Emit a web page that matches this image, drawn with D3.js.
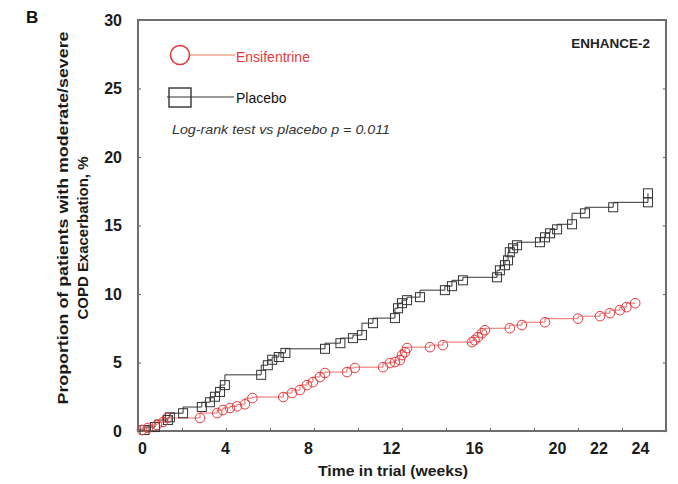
<!DOCTYPE html>
<html><head><meta charset="utf-8">
<script src="https://cdn.jsdelivr.net/npm/d3@7"></script>
<style>body{margin:0;background:#fff}svg{display:block}text{font-family:"Liberation Sans",Arial,sans-serif}</style>
</head><body><svg id="c" width="678" height="484"></svg>
<script>
// ---- data ----
const xTickValues = [0,2,4,6,8,10,12,14,16,18,20,22,24];
const xTickLabels = [0,4,8,12,16,20,22,24];
const yTickValues = [0,5,10,15,20,25,30];
const seriesNames = ["Ensifentrine","Placebo"];
const ensWeeks = [0,0.18,0.45,0.86,1.14,1.32,2.82,3.6,3.86,4.18,4.5,4.86,5.2,6.6,7.0,7.36,7.68,7.95,8.27,8.5,9.5,9.86,11.14,11.45,11.68,11.9,12.0,12.14,12.23,13.27,13.86,15.18,15.3,15.45,15.64,15.77,16.9,17.45,18.5,20.0,21.0,21.45,21.9,22.2,22.6];
const ensPct   = [0,0.07,0.22,0.44,0.66,0.95,0.95,1.31,1.53,1.68,1.8,1.95,2.4,2.48,2.77,2.99,3.35,3.57,3.94,4.23,4.3,4.6,4.66,4.96,5.03,5.17,5.54,5.76,6.05,6.12,6.27,6.49,6.63,6.85,7.14,7.36,7.5,7.73,7.94,8.2,8.38,8.6,8.82,9.04,9.33];
const plaWeeks = [0,0.3,0.77,1.36,1.45,2.05,2.9,3.27,3.5,3.73,3.95,5.6,5.9,6.1,6.4,6.7,8.5,9.2,9.77,10.18,10.68,11.68,11.82,12.0,12.23,12.82,13.95,14.27,14.77,16.32,16.45,16.68,16.82,16.9,17.05,17.23,18.27,18.5,18.73,19.05,19.73,20.32,21.6,23.18,23.18];
const plaPct   = [0,0.07,0.29,0.8,1.0,1.3,1.75,2.1,2.5,2.85,3.35,4.1,4.8,5.2,5.4,5.7,6.0,6.41,6.78,7.0,7.87,8.24,8.96,9.33,9.55,9.77,10.28,10.57,11.0,11.22,11.73,12.1,12.46,13.05,13.34,13.56,13.78,14.14,14.43,14.72,15.09,15.89,16.33,16.69,17.35];

// ---- drawing ----
const svg = d3.select("#c");
const L=138, R=666, T=20, B=431;
const x = d3.scaleLinear().domain([0,24]).range([L,R]);
const xLab = d3.scaleLinear().domain([0,24]).range([142,640]);
const y = d3.scaleLinear().domain([0,30]).range([B,T]);
const frameCol = "#6e6e6e";
const red = "#e5393c", redLine = "#ea6a68", blk = "#333";

// ticks (inward)
const gx = svg.append("g").attr("transform",`translate(0,${B})`)
  .call(d3.axisBottom(x).tickValues(xTickValues).tickSize(-3).tickFormat(""));
const gyl = svg.append("g").attr("transform",`translate(${L},0)`)
  .call(d3.axisLeft(y).tickValues(yTickValues).tickSize(-3).tickFormat(""));
const gyr = svg.append("g").attr("transform",`translate(${R},0)`)
  .call(d3.axisRight(y).tickValues(yTickValues).tickSize(-3).tickFormat(""));
[gx,gyl,gyr].forEach(g=>{g.select(".domain").remove();g.selectAll("line").attr("stroke",frameCol).attr("stroke-width",1.2);});

// tick labels
const lx = svg.append("g").attr("transform",`translate(0,443)`)
  .call(d3.axisBottom(xLab).tickValues(xTickLabels).tickSize(0).tickPadding(0));
const ly = svg.append("g").attr("transform",`translate(${L},0)`)
  .call(d3.axisLeft(y).tickValues(yTickValues).tickSize(0).tickPadding(16));
[lx,ly].forEach(g=>{g.select(".domain").remove();
  g.selectAll("text").attr("font-family","Liberation Sans, Arial, sans-serif").attr("font-size",16).attr("font-weight","bold").attr("fill","#1a1a1a");});

// frame
svg.append("rect").attr("x",L).attr("y",T).attr("width",R-L).attr("height",B-T)
  .attr("fill","none").attr("stroke",frameCol).attr("stroke-width",2);

// curves
const line = d3.line().x(d=>x(d[0])).y(d=>y(d[1])).curve(d3.curveStepBefore);
const ens = ensWeeks.map((w,i)=>[w,ensPct[i]]);
const pla = plaWeeks.map((w,i)=>[w,plaPct[i]]);
svg.append("path").datum(pla).attr("d",line).attr("fill","none").attr("stroke",blk).attr("stroke-width",1);
svg.append("path").datum(ens).attr("d",line).attr("fill","none").attr("stroke",redLine).attr("stroke-width",1);
svg.append("g").selectAll("rect").data(pla.slice(1)).join("rect")
  .attr("x",d=>x(d[0])-4.5).attr("y",d=>y(d[1])-4.5).attr("width",9).attr("height",9)
  .attr("fill","none").attr("stroke",blk).attr("stroke-width",1);
svg.append("g").selectAll("circle").data(ens.slice(1)).join("circle")
  .attr("cx",d=>x(d[0])).attr("cy",d=>y(d[1])).attr("r",4.8)
  .attr("fill","none").attr("stroke",red).attr("stroke-width",1);

// legend
svg.append("line").attr("x1",180).attr("x2",235).attr("y1",55).attr("y2",55).attr("stroke","#e07a5a").attr("stroke-width",1);
svg.append("circle").attr("cx",180).attr("cy",55).attr("r",9.5).attr("fill","#fff").attr("stroke",red).attr("stroke-width",1.6);
svg.append("text").attr("x",236).attr("y",62).attr("font-size",14).attr("fill",red).text(seriesNames[0]);
svg.append("line").attr("x1",167).attr("x2",234).attr("y1",97).attr("y2",97).attr("stroke",blk).attr("stroke-width",1);
svg.append("rect").attr("x",169).attr("y",88).attr("width",22).attr("height",19).attr("fill","none").attr("stroke",blk).attr("stroke-width",1.4);
svg.append("text").attr("x",236).attr("y",103).attr("font-size",14).attr("fill","#111").text(seriesNames[1]);
svg.append("text").attr("x",172).attr("y",134).attr("font-size",13).attr("font-style","italic").attr("fill","#333")
  .attr("textLength",218).attr("lengthAdjust","spacingAndGlyphs").text("Log-rank test vs placebo p = 0.011");

svg.append("text").attr("x",650).attr("y",48).attr("text-anchor","end").attr("font-size",13.5).attr("font-weight","bold").attr("fill","#222").text("ENHANCE-2");
svg.append("text").attr("x",26).attr("y",23).attr("font-size",17).attr("font-weight","bold").attr("fill","#111").text("B");

// axis titles
svg.append("text").attr("x",393).attr("y",476).attr("text-anchor","middle").attr("font-size",15).attr("font-weight","bold").attr("fill","#1a1a1a")
  .attr("textLength",150).attr("lengthAdjust","spacingAndGlyphs").text("Time in trial (weeks)");
svg.append("text").attr("transform","translate(68,218) rotate(-90)").attr("text-anchor","middle").attr("font-size",15).attr("font-weight","bold").attr("fill","#1a1a1a")
  .attr("textLength",373).attr("lengthAdjust","spacingAndGlyphs").text("Proportion of patients with moderate/severe");
svg.append("text").attr("transform","translate(88,238) rotate(-90)").attr("text-anchor","middle").attr("font-size",15).attr("font-weight","bold").attr("fill","#1a1a1a")
  .attr("textLength",163).attr("lengthAdjust","spacingAndGlyphs").text("COPD Exacerbation, %");
</script></body></html>
